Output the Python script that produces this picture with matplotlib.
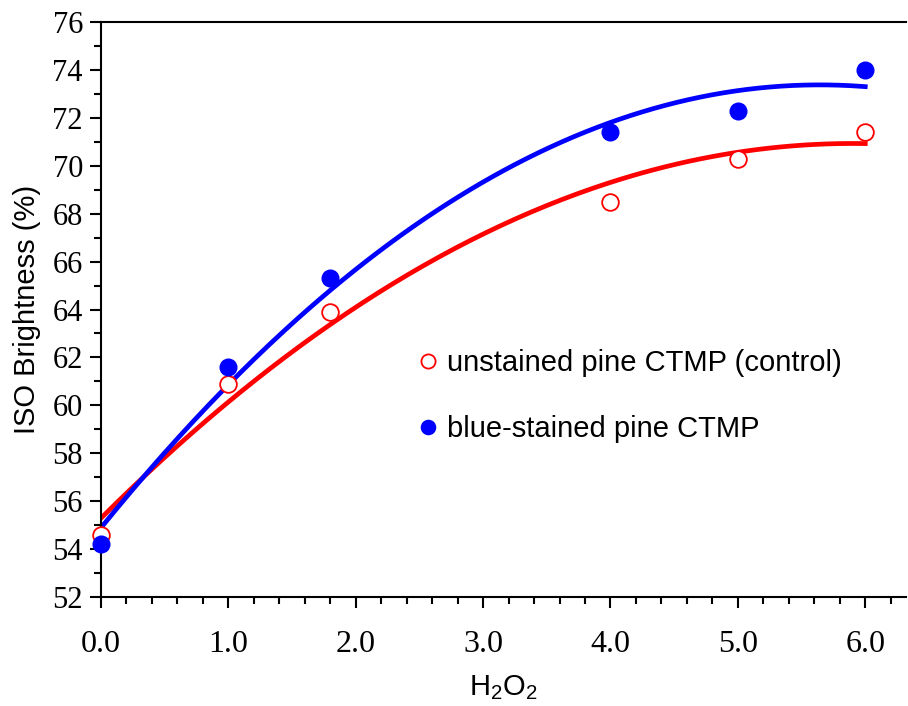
import numpy as np
import matplotlib.pyplot as plt
from matplotlib.ticker import MultipleLocator

# H2O2 charge and ISO brightness readings
h2o2 = [0.0, 1.0, 1.8, 4.0, 5.0, 6.0]
unstained = [54.6, 60.9, 63.9, 68.5, 70.3, 71.4]
blue_stained = [54.2, 61.6, 65.3, 71.4, 72.3, 74.0]

plt.rcParams['font.family'] = ['Liberation Sans']
plt.rcParams['mathtext.default'] = 'regular'

fig = plt.figure(figsize=(9.08, 7.06), dpi=100)
ax = fig.add_axes([0.1112, 0.1544, 0.8866, 0.8144])

# second order trend lines
xs = np.linspace(0, 6, 200)
red_fit = np.polyfit(h2o2, unstained, 2)
blue_fit = np.polyfit(h2o2, blue_stained, 2)
ax.plot(xs, np.polyval(red_fit, xs), color='#ff0000', lw=3.4, zorder=2)
ax.plot(xs, np.polyval(blue_fit, xs), color='#0000ff', lw=3.4, zorder=2)

ax.plot(h2o2, unstained, 'o', ms=12, mfc='white', mec='#ff0000', mew=1.3,
        label='unstained pine CTMP (control)', zorder=3, clip_on=False)
ax.plot(h2o2, blue_stained, 'o', ms=12, color='#0000ff',
        label='blue-stained pine CTMP', zorder=4, clip_on=False)

ax.set_xlim(0, 6.32)
ax.set_ylim(52, 76)
ax.xaxis.set_major_locator(MultipleLocator(1))
ax.xaxis.set_minor_locator(MultipleLocator(0.2))
ax.yaxis.set_major_locator(MultipleLocator(2))
ax.yaxis.set_minor_locator(MultipleLocator(1))
ax.xaxis.set_major_formatter(plt.FormatStrFormatter('%.1f'))
ax.tick_params(which='both', direction='out', width=1.5)
ax.tick_params(which='major', length=8)
ax.tick_params(which='minor', length=5)
ax.tick_params(axis='x', pad=16, labelsize=23)
ax.tick_params(axis='y', pad=5, labelsize=22)
for lab in ax.get_xticklabels() + ax.get_yticklabels():
    lab.set_fontfamily('Liberation Serif')

ax.spines['right'].set_visible(False)
for s in ['left', 'bottom', 'top']:
    ax.spines[s].set_linewidth(1.5)

ax.set_xlabel('H$_2$O$_2$', fontsize=21, labelpad=10)
ax.set_ylabel('ISO Brightness (%)', fontsize=21, labelpad=8)

ax.legend(loc='upper left', bbox_to_anchor=(0.352, 0.477), frameon=False,
          fontsize=21, handletextpad=0.05, labelspacing=1.3, handlelength=1.2,
          markerscale=0.85)

fig.savefig('out.png', dpi=100)
